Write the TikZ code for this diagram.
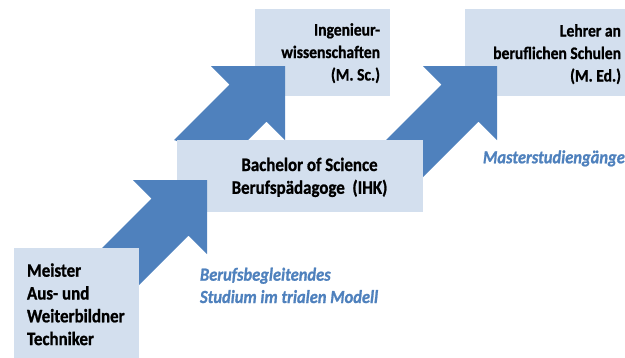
\documentclass[tikz,border=0pt]{standalone}
\usepackage{fontspec}
\usetikzlibrary{calc}
\setmainfont{Carlito}[FakeStretch=0.89,BoldFeatures={FakeBold=1},BoldItalicFeatures={FakeBold=1}]
\definecolor{boxblue}{HTML}{D3DFEE}
\definecolor{arrowblue}{HTML}{4F81BD}
\definecolor{noteblue}{HTML}{4F81BD}
\newcommand\topstr{\rule{0pt}{14pt}}
\newcommand\botstr{\rule[-5pt]{0pt}{5pt}}
\begin{document}
\begin{tikzpicture}[x=1pt,y=-1pt,
  box/.style={fill=boxblue,draw=none,inner sep=0pt,outer sep=0pt,anchor=north west},
  blockarrow/.style={fill=arrowblue,draw=none},
  lbl/.style={font=\bfseries\fontsize{19}{22.8}\selectfont,text=black,inner sep=0pt,outer sep=0pt},
  toplbl/.style={lbl,font=\bfseries\fontsize{17.5}{22.5}\selectfont,align=right,anchor=north east},
  note/.style={font=\bfseries\itshape\fontsize{18.5}{22.3}\selectfont,text=noteblue,inner sep=0pt,outer sep=0pt,align=left}]
\useasboundingbox (0,0) rectangle (625,357);

% upper boxes (bottom layer)
\node[box,minimum width=135pt,minimum height=87pt] (ing) at (255,9) {};
\node[box,minimum width=165pt,minimum height=87pt] (lehrer) at (465,9) {};

% arrows into the upper boxes
\coordinate (tipB) at (285,66);
\coordinate (tipC) at (497,66);
\fill[blockarrow] (tipB) -- ++(-74,0) -- ++(18.5,18.5) -- (174,140) -- (228,160)
  -- ($(tipB)+(-18.5,55.5)$) -- ++(18.5,18.5) -- cycle;
\fill[blockarrow] (tipC) -- ++(-74,0) -- ++(18.5,18.5) -- (376,150) -- (415,185)
  -- ($(tipC)+(-18.5,55.5)$) -- ++(18.5,18.5) -- cycle;

% middle box
\node[box,minimum width=246pt,minimum height=72pt] (bachelor) at (177,140) {};

% arrow into the middle box
\coordinate (tipA) at (207,180);
\fill[blockarrow] (tipA) -- ++(-74,0) -- ++(18.5,18.5) -- (95,255) -- (130,294)
  -- ($(tipA)+(-18.5,55.5)$) -- ++(18.5,18.5) -- cycle;

% lower box
\node[box,minimum width=125pt,minimum height=115pt] (meister) at (14,248) {};

% texts
\node[lbl,align=left,anchor=north west] (meistertext) at (27,262.7)
  {\topstr Meister\\Aus- und\\Weiterbildner\\Techniker\botstr};
\node[lbl,align=center,anchor=north] (bachelortext) at (309.5,157)
  {\topstr Bachelor of Science\\Berufspädagoge\ \ (IHK)\botstr};
\node[toplbl] (ingtext) at (380,21.5)
  {\topstr Ingenieur-\\wissenschaften\\(M. Sc.)\botstr};
\node[toplbl] (lehrertext) at (621,22.5)
  {\topstr Lehrer an\\beruflichen Schulen\\(M. Ed.)\botstr};
\node[note,anchor=north west] (trial) at (200,266.7)
  {\topstr Berufsbegleitendes\\Studium im trialen Modell\botstr};
\node[note,anchor=base west] (master) at (483,163.3) {Masterstudiengänge};
\end{tikzpicture}
\end{document}
